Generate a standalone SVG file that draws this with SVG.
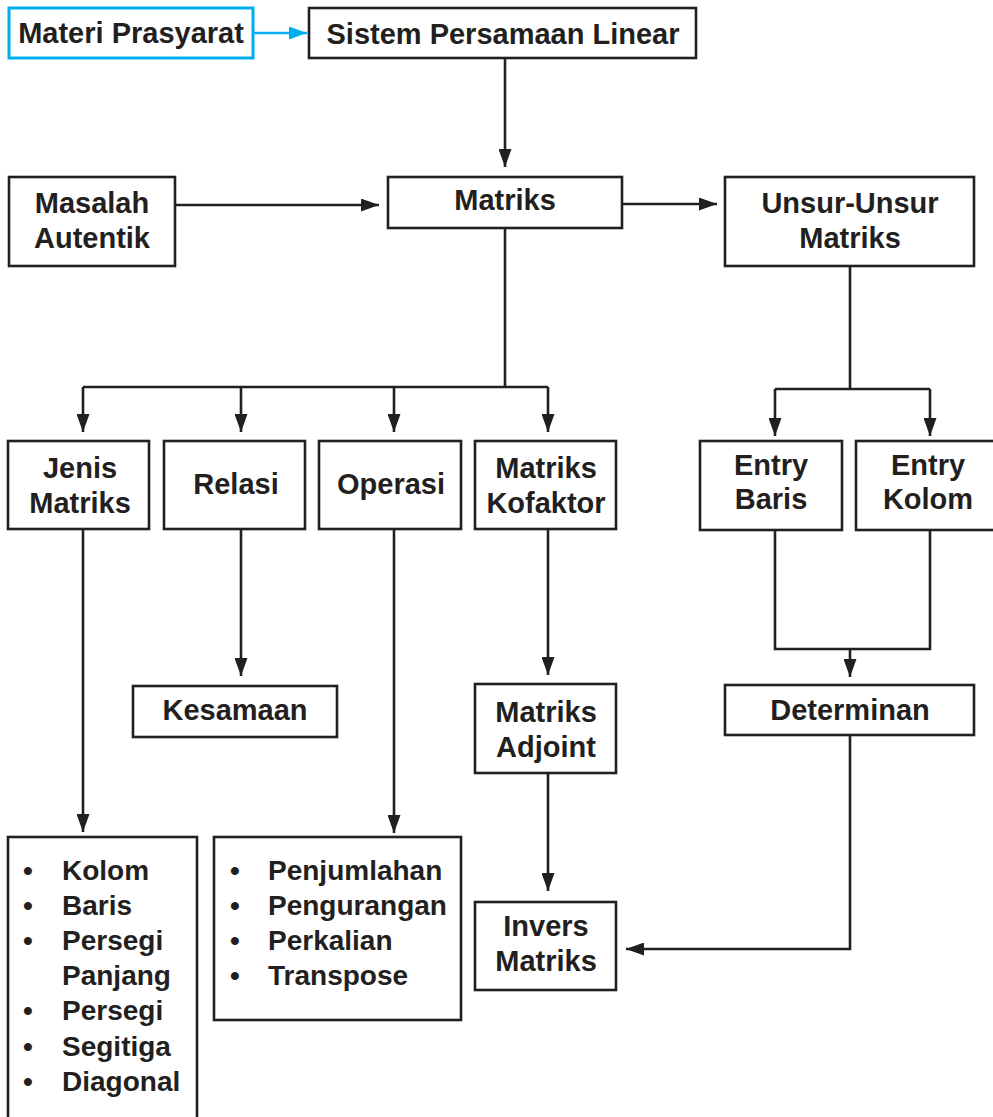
<svg xmlns="http://www.w3.org/2000/svg" width="993" height="1117" viewBox="0 0 993 1117">
<defs>
<style>
.box{fill:#fff;stroke:#231f20;stroke-width:2.6}
.blue{fill:#fff;stroke:#00aeef;stroke-width:3}
.t{font-family:"Liberation Sans",Arial,sans-serif;font-weight:bold;font-size:29px;fill:#231f20;text-anchor:middle}
.l{font-family:"Liberation Sans",Arial,sans-serif;font-weight:bold;font-size:28px;fill:#231f20}
.c{fill:none;stroke:#231f20;stroke-width:2.6}
.cb{fill:none;stroke:#00aeef;stroke-width:2.6}
</style>
<marker id="ah" viewBox="0 0 18 13" refX="18" refY="6.5" markerWidth="18" markerHeight="13" markerUnits="userSpaceOnUse" orient="auto">
<path d="M0,0 L18,6.5 L0,13 Z" fill="#231f20"/>
</marker>
<marker id="ahb" viewBox="0 0 18 13" refX="18" refY="6.5" markerWidth="18" markerHeight="13" markerUnits="userSpaceOnUse" orient="auto">
<path d="M0,0 L18,6.5 L0,13 Z" fill="#00aeef"/>
</marker>
</defs>
<g id="connectors">
<path class="cb" d="M253,33 H307" marker-end="url(#ahb)"/>
<path class="c" d="M505,58 V167" marker-end="url(#ah)"/>
<path class="c" d="M175,205 H379" marker-end="url(#ah)"/>
<path class="c" d="M622,204 H717" marker-end="url(#ah)"/>
<path class="c" d="M505,228 V387"/>
<path class="c" d="M83,387 H548"/>
<path class="c" d="M83,387 V432" marker-end="url(#ah)"/>
<path class="c" d="M241,387 V432" marker-end="url(#ah)"/>
<path class="c" d="M394,387 V432" marker-end="url(#ah)"/>
<path class="c" d="M548,387 V432" marker-end="url(#ah)"/>
<path class="c" d="M850,266 V389"/>
<path class="c" d="M775,389 H930"/>
<path class="c" d="M775,389 V436" marker-end="url(#ah)"/>
<path class="c" d="M930,389 V436" marker-end="url(#ah)"/>
<path class="c" d="M775,530 V649 H930 V530"/>
<path class="c" d="M850,649 V677" marker-end="url(#ah)"/>
<path class="c" d="M850,735 V949 H626" marker-end="url(#ah)"/>
<path class="c" d="M241,529 V676" marker-end="url(#ah)"/>
<path class="c" d="M548,529 V675" marker-end="url(#ah)"/>
<path class="c" d="M548,773 V891" marker-end="url(#ah)"/>
<path class="c" d="M83,529 V832" marker-end="url(#ah)"/>
<path class="c" d="M394,529 V833" marker-end="url(#ah)"/>
</g>
<g id="materi-prasyarat"><rect class="blue" x="9" y="8" width="244" height="50"/><text class="t" x="131" y="43">Materi Prasyarat</text></g>
<g id="spl"><rect class="box" x="309" y="8" width="387" height="50"/><text class="t" x="503" y="44">Sistem Persamaan Linear</text></g>
<g id="matriks"><rect class="box" x="388" y="177" width="234" height="51"/><text class="t" x="505" y="210">Matriks</text></g>
<g id="masalah-autentik"><rect class="box" x="9" y="177" width="166" height="89"/><text class="t" x="92" y="213">Masalah</text><text class="t" x="92" y="248">Autentik</text></g>
<g id="unsur-unsur"><rect class="box" x="725" y="177" width="249" height="89"/><text class="t" x="850" y="213">Unsur-Unsur</text><text class="t" x="850" y="248">Matriks</text></g>
<g id="jenis-matriks"><rect class="box" x="8" y="441" width="141" height="88"/><text class="t" x="80" y="478">Jenis</text><text class="t" x="80" y="513">Matriks</text></g>
<g id="relasi"><rect class="box" x="164" y="441" width="141" height="88"/><text class="t" x="236" y="494">Relasi</text></g>
<g id="operasi"><rect class="box" x="319" y="441" width="142" height="88"/><text class="t" x="391" y="494">Operasi</text></g>
<g id="matriks-kofaktor"><rect class="box" x="475" y="441" width="141" height="88"/><text class="t" x="546" y="478">Matriks</text><text class="t" x="546" y="513">Kofaktor</text></g>
<g id="entry-baris"><rect class="box" x="700" y="441" width="142" height="89"/><text class="t" x="771" y="475">Entry</text><text class="t" x="771" y="509">Baris</text></g>
<g id="entry-kolom"><rect class="box" x="856" y="441" width="146" height="89"/><text class="t" x="928" y="475">Entry</text><text class="t" x="928" y="509">Kolom</text></g>
<g id="kesamaan"><rect class="box" x="133" y="686" width="204" height="51"/><text class="t" x="235" y="720">Kesamaan</text></g>
<g id="determinan"><rect class="box" x="725" y="685" width="249" height="50"/><text class="t" x="850" y="720">Determinan</text></g>
<g id="matriks-adjoint"><rect class="box" x="475" y="684" width="141" height="89"/><text class="t" x="546" y="722">Matriks</text><text class="t" x="546" y="757">Adjoint</text></g>
<g id="invers-matriks"><rect class="box" x="475" y="902" width="141" height="88"/><text class="t" x="546" y="936">Invers</text><text class="t" x="546" y="971">Matriks</text></g>
<g id="jenis-list"><rect class="box" x="8" y="837" width="189" height="295"/>
<text class="l"><tspan x="23" y="880">•</tspan><tspan x="62" y="880">Kolom</tspan><tspan x="23" y="915">•</tspan><tspan x="62" y="915">Baris</tspan><tspan x="23" y="950">•</tspan><tspan x="62" y="950">Persegi</tspan><tspan x="62" y="985">Panjang</tspan><tspan x="23" y="1020">•</tspan><tspan x="62" y="1020">Persegi</tspan><tspan x="23" y="1056">•</tspan><tspan x="62" y="1056">Segitiga</tspan><tspan x="23" y="1091">•</tspan><tspan x="62" y="1091">Diagonal</tspan></text></g>
<g id="operasi-list"><rect class="box" x="214" y="837" width="247" height="183"/>
<text class="l"><tspan x="230" y="880">•</tspan><tspan x="268" y="880">Penjumlahan</tspan><tspan x="230" y="915">•</tspan><tspan x="268" y="915">Pengurangan</tspan><tspan x="230" y="950">•</tspan><tspan x="268" y="950">Perkalian</tspan><tspan x="230" y="985">•</tspan><tspan x="268" y="985">Transpose</tspan></text></g>
</svg>
